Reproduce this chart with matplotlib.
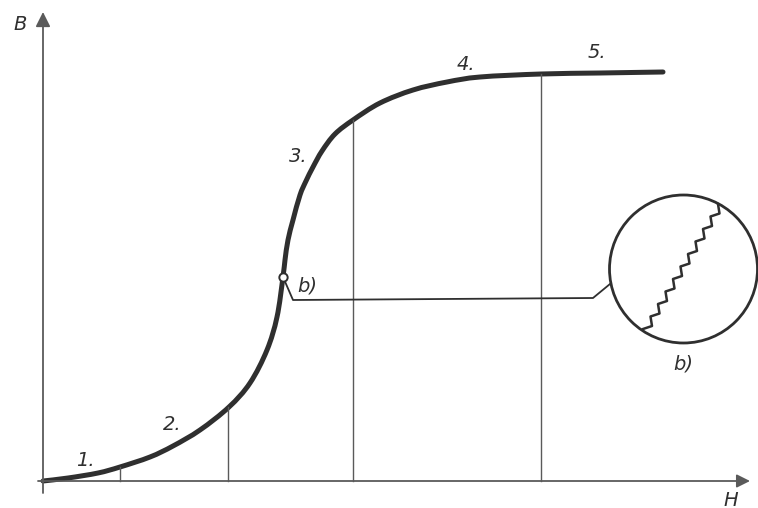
import matplotlib
matplotlib.use("Agg")
import matplotlib.pyplot as plt
from matplotlib.patches import Circle, PathPatch
from matplotlib.path import Path

# curva de magnetizacion (H, B)
curva_h = [0, 25, 55, 77, 107, 130, 157, 186, 207, 224, 234, 240, 242, 245, 250,
           257, 263, 270, 279, 292, 310, 337, 370, 404, 437, 498, 557, 620]
curva_b = [0, 3, 8, 14, 24, 35, 51, 74, 98, 131, 164, 204, 221, 241, 261,
           286, 300, 314, 330, 347, 361, 378, 391, 399, 404, 407, 408, 409]

# lineas verticales que separan las zonas
zonas_h = [77, 185, 310, 498]
zonas_b = [14, 74, 361, 407]

# etiquetas de zonas
etiquetas = ["1.", "2.", "3.", "4.", "5."]
etiq_h = [42, 129, 255, 423, 554]
etiq_b = [21, 56, 324, 417, 428]

# punto b) y linea de referencia hasta la lupa
punto_b = (240, 204)
guia_h = [240, 250, 550, 567]
guia_b = [204, 181, 183, 197]

# lupa con los saltos de Barkhausen
lupa_centro = (640.5, 212)
lupa_radio = 74
saltos_h = [600, 609, 607.5, 616.5, 615, 624, 622.5, 631.5, 630, 639, 637.5,
            646.5, 645, 654, 652.5, 661.5, 660, 669, 667.5, 676.5, 675]
saltos_b = [152, 155, 164.5, 167.5, 177, 180, 189.5, 192.5, 202, 205, 214.5,
            217.5, 227, 230, 239.5, 242.5, 252, 255, 264.5, 267.5, 277]

color = "#2f2f2f"
fino = "#5a5a5a"


def trazo_suave(xs, ys):
    # Catmull-Rom pasado a Bezier para que la curva no quede quebrada
    pts = list(zip(xs, ys))
    verts = [pts[0]]
    codes = [Path.MOVETO]
    for i in range(len(pts) - 1):
        p0 = pts[max(i - 1, 0)]
        p1 = pts[i]
        p2 = pts[i + 1]
        p3 = pts[min(i + 2, len(pts) - 1)]
        c1 = (p1[0] + (p2[0] - p0[0]) / 6, p1[1] + (p2[1] - p0[1]) / 6)
        c2 = (p2[0] - (p3[0] - p1[0]) / 6, p2[1] - (p3[1] - p1[1]) / 6)
        verts += [c1, c2, p2]
        codes += [Path.CURVE4] * 3
    return Path(verts, codes)


fig = plt.figure(figsize=(7.58, 5.08), dpi=100)
ax = fig.add_axes([0, 0, 1, 1])
ax.set_xlim(-43, 715)
ax.set_ylim(-27, 481)
ax.axis("off")

# ejes con flechas
ax.annotate("", xy=(0, 469), xytext=(0, -12),
            arrowprops=dict(arrowstyle="-|>", color=fino, lw=1.3,
                            mutation_scale=22, shrinkA=0, shrinkB=0))
ax.annotate("", xy=(707, 0), xytext=(-5, 0),
            arrowprops=dict(arrowstyle="-|>", color=fino, lw=1.3,
                            mutation_scale=20, shrinkA=0, shrinkB=0))
txt = dict(color=color, fontsize=14, style="italic", ha="center", va="center")
ax.text(-23, 456, "B", **txt)
ax.text(688, -19, "H", **txt)

# lineas verticales
for h, b in zip(zonas_h, zonas_b):
    ax.plot([h, h], [0, b], color=fino, lw=1.0)

# curva
ax.add_patch(PathPatch(trazo_suave(curva_h, curva_b), fill=False, ec=color,
                       lw=3.6, capstyle="round", joinstyle="round"))

for t, h, b in zip(etiquetas, etiq_h, etiq_b):
    ax.text(h, b, t, **txt)

# referencia b)
ax.plot(guia_h, guia_b, color=color, lw=1.3)
ax.plot(*punto_b, marker="o", ms=6, mfc="white", mec=color, mew=1.4)
ax.text(264, 195, "b)", **txt)

ax.add_patch(Circle(lupa_centro, lupa_radio, fill=False, ec=color, lw=2))
ax.plot(saltos_h, saltos_b, color=color, lw=1.8)
ax.text(640, 117, "b)", **txt)

plt.savefig("out.png", dpi=100)
